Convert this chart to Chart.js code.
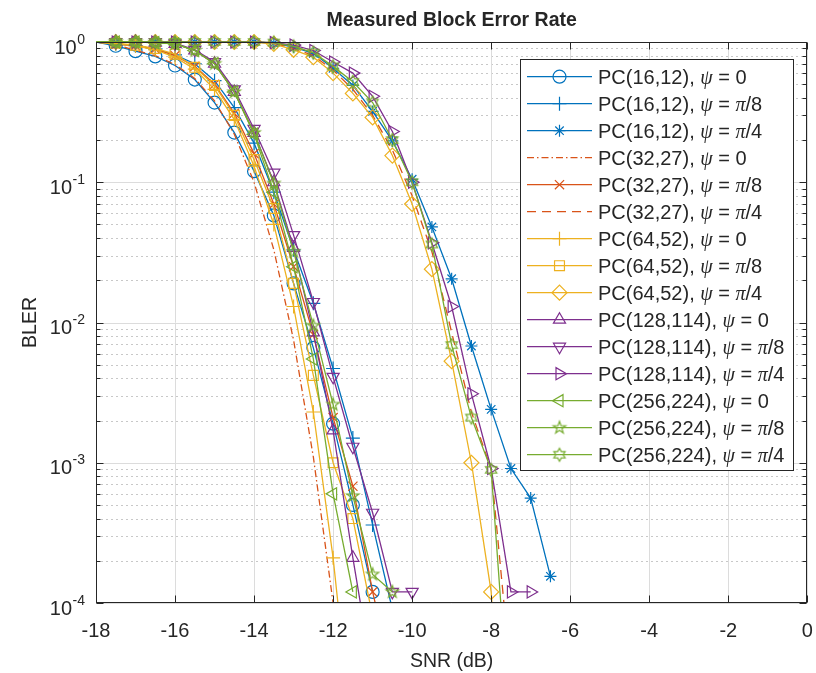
<!DOCTYPE html>
<html>
<head>
<meta charset="utf-8">
<script src="https://cdn.jsdelivr.net/npm/chart.js@4.4.1/dist/chart.umd.min.js"></script>
<style>
  html, body { margin: 0; padding: 0; background: #fff; }
  canvas { display: block; }
</style>
</head>
<body>
<canvas id="bler" width="816" height="673"></canvas>
<script>
// SNR points (dB)
const snr = [-18, -17.5, -17, -16.5, -16, -15.5, -15, -14.5, -14, -13.5, -13, -12.5,
             -12, -11.5, -11, -10.5, -10, -9.5, -9, -8.5, -8, -7.5, -7, -6.5];

// measured BLER per code / psi (null = no point)
const pc16_0    = [1, 0.94, 0.86, 0.79, 0.68, 0.54, 0.37, 0.226, 0.12, 0.058, 0.019, 0.0066, 0.0019, 0.0005, 0.00012, null, null, null, null, null, null, null, null, null];
const pc16_pi8  = [1, 0.97, 0.94, 0.89, 0.81, 0.7, 0.53, 0.34, 0.19, 0.085, 0.033, 0.0137, 0.0047, 0.0015, 0.00036, 0.00009, null, null, null, null, null, null, null, null];
const pc16_pi4  = [1, 1, 1, 1, 1, 1, 1, 1, 1, 0.98, 0.92, 0.83, 0.65, 0.49, 0.32, 0.197, 0.105, 0.048, 0.0205, 0.0068, 0.0024, 0.00091, 0.00056, 0.000155];
const pc32_0    = [1, 0.96, 0.87, 0.8, 0.69, 0.55, 0.38, 0.22, 0.1, 0.033, 0.0075, 0.0011, 0.0001, 0.000003, null, null, null, null, null, null, null, null, null, null];
const pc32_pi8  = [1, 0.97, 0.94, 0.89, 0.8, 0.67, 0.5, 0.31, 0.16, 0.07, 0.025, 0.0082, 0.0021, 0.00068, 0.00012, 0.00003, null, null, null, null, null, null, null, null];
const pc32_pi4  = [1, 1, 1, 1, 1, 1, 1, 1, 1, 0.98, 0.9, 0.8, 0.63, 0.46, 0.3, 0.17, 0.08, 0.032, 0.0085, 0.0023, 0.0009, 0.00003, null, null];
const pc64_0    = [1, 0.97, 0.94, 0.88, 0.78, 0.64, 0.46, 0.28, 0.13, 0.05, 0.013, 0.0023, 0.00021, 0.00001, null, null, null, null, null, null, null, null, null, null];
const pc64_pi8  = [1, 0.98, 0.95, 0.9, 0.82, 0.66, 0.49, 0.3, 0.145, 0.065, 0.019, 0.0042, 0.001, 0.0004, 0.00008, null, null, null, null, null, null, null, null, null];
const pc64_pi4  = [1, 1, 1, 1, 1, 1, 1, 1, 1, 0.97, 0.88, 0.78, 0.6, 0.43, 0.29, 0.155, 0.07, 0.024, 0.0053, 0.001, 0.00012, 0.000001, null, null];
const pc128_0   = [1, 1, 1, 0.99, 0.97, 0.87, 0.7, 0.44, 0.225, 0.1, 0.034, 0.0085, 0.0017, 0.00021, 0.00003, null, null, null, null, null, null, null, null, null];
const pc128_pi8 = [1, 1, 1, 1, 0.98, 0.88, 0.72, 0.46, 0.24, 0.117, 0.042, 0.014, 0.0041, 0.0013, 0.00044, 0.00012, 0.00012, null, null, null, null, null, null, null];
const pc128_pi4 = [1, 1, 1, 1, 1, 1, 1, 1, 1, 0.99, 0.95, 0.87, 0.72, 0.6, 0.41, 0.23, 0.1, 0.037, 0.013, 0.0031, 0.00091, 0.00012, 0.00012, null];
const pc256_0   = [1, 1, 1, 0.99, 0.97, 0.87, 0.7, 0.44, 0.22, 0.085, 0.025, 0.0055, 0.0006, 0.00012, null, null, null, null, null, null, null, null, null, null];
const pc256_pi8 = [1, 1, 1, 0.99, 0.97, 0.87, 0.7, 0.44, 0.225, 0.098, 0.032, 0.0095, 0.0026, 0.00058, 0.00016, 0.00012, null, null, null, null, null, null, null, null];
const pc256_pi4 = [1, 1, 1, 1, 1, 1, 1, 1, 1, 0.99, 0.93, 0.84, 0.67, 0.52, 0.37, 0.2, 0.1, 0.036, 0.0069, 0.0021, 0.00089, 0.00001, null, null];

const labels = [
  'PC(16,12), ψ = 0', 'PC(16,12), ψ = π/8', 'PC(16,12), ψ = π/4',
  'PC(32,27), ψ = 0', 'PC(32,27), ψ = π/8', 'PC(32,27), ψ = π/4',
  'PC(64,52), ψ = 0', 'PC(64,52), ψ = π/8', 'PC(64,52), ψ = π/4',
  'PC(128,114), ψ = 0', 'PC(128,114), ψ = π/8', 'PC(128,114), ψ = π/4',
  'PC(256,224), ψ = 0', 'PC(256,224), ψ = π/8', 'PC(256,224), ψ = π/4'
];
const series = [pc16_0, pc16_pi8, pc16_pi4, pc32_0, pc32_pi8, pc32_pi4, pc64_0, pc64_pi8, pc64_pi4,
                pc128_0, pc128_pi8, pc128_pi4, pc256_0, pc256_pi8, pc256_pi4];

const xTicks = [-18, -16, -14, -12, -10, -8, -6, -4, -2, 0];
const yTicks = [1e-4, 1e-3, 1e-2, 1e-1, 1];
const yExp = ['-4', '-3', '-2', '-1', '0'];

const BLUE = '#0072BD', ORANGE = '#D95319', YELLOW = '#EDB120', PURPLE = '#7E2F8E', GREEN = '#77AC30';
const INK = '#262626';
const SANS = '"Liberation Sans", Arial, Helvetica, sans-serif';
const SERIF = '"Liberation Serif", "DejaVu Serif", serif';

function starMarker(points, outer, inner, color) {
  const c = document.createElement('canvas');
  c.width = 18; c.height = 18;
  const g = c.getContext('2d');
  g.strokeStyle = color;
  g.lineWidth = 1.2;
  g.beginPath();
  for (let k = 0; k < points * 2; k++) {
    const r = k % 2 ? inner : outer;
    const a = -Math.PI / 2 + k * Math.PI / points;
    const px = 9 + r * Math.cos(a), py = 9 + r * Math.sin(a);
    if (k === 0) g.moveTo(px, py); else g.lineTo(px, py);
  }
  g.closePath();
  g.stroke();
  return c;
}
const pentagram = starMarker(5, 6.5, 2.6, GREEN);
const hexagram = starMarker(6, 6.5, 3.7, GREEN);

const looks = [
  { color: BLUE, style: 'circle', r: 6.5 },
  { color: BLUE, style: 'cross', r: 7 },
  { color: BLUE, style: 'star', r: 6 },
  { color: ORANGE, style: false, r: 0, dash: [7, 3, 1.5, 3] },
  { color: ORANGE, style: 'crossRot', r: 6.5 },
  { color: ORANGE, style: false, r: 0, dash: [9, 6] },
  { color: YELLOW, style: 'cross', r: 7 },
  { color: YELLOW, style: 'rect', r: 7 },
  { color: YELLOW, style: 'rectRot', r: 7.5 },
  { color: PURPLE, style: 'triangle', r: 7, rot: 0 },
  { color: PURPLE, style: 'triangle', r: 7, rot: 180 },
  { color: PURPLE, style: 'triangle', r: 7, rot: 90 },
  { color: GREEN, style: 'triangle', r: 7, rot: 270 },
  { color: GREEN, style: pentagram, r: 6 },
  { color: GREEN, style: hexagram, r: 6 }
];

const datasets = series.map((vals, i) => {
  const lk = looks[i];
  const pts = [];
  vals.forEach((v, j) => { if (v !== null) pts.push({ x: snr[j], y: v }); });
  return {
    label: labels[i],
    data: pts,
    borderColor: lk.color,
    borderWidth: 1.3,
    borderDash: lk.dash || [],
    pointStyle: lk.style || 'circle',
    pointRotation: lk.rot || 0,
    pointRadius: (c) => (lk.r && c.dataIndex > 0 ? lk.r : 0),
    pointBorderColor: lk.color,
    pointBackgroundColor: 'rgba(0,0,0,0)',
    pointBorderWidth: 1.2,
    tension: 0,
    fill: false,
    order: -i,
    clip: { left: 0, top: 10, right: 0, bottom: 0 }
  };
});

function drawMixed(ctx, str, x, y, size) {
  let cx = x;
  for (const ch of str) {
    const greek = ch === 'ψ' || ch === 'π';
    ctx.font = greek ? `italic ${size}px ${SERIF}` : `${size}px ${SANS}`;
    ctx.fillText(ch, cx, y);
    cx += ctx.measureText(ch).width;
  }
}

const axesDecor = {
  id: 'axesDecor',
  beforeDatasetsDraw(chart) {
    const { ctx, chartArea: a, scales: { x, y } } = chart;
    ctx.save();
    ctx.lineWidth = 1;
    // minor y grid (dotted)
    ctx.strokeStyle = '#c8c8c8';
    ctx.setLineDash([2, 3]);
    for (let e = -4; e < 0; e++) {
      for (let m = 2; m <= 9; m++) {
        const py = Math.round(y.getPixelForValue(m * Math.pow(10, e))) + 0.5;
        ctx.beginPath(); ctx.moveTo(a.left, py); ctx.lineTo(a.right, py); ctx.stroke();
      }
    }
    // major grid
    ctx.setLineDash([]);
    ctx.strokeStyle = '#dcdcdc';
    yTicks.forEach(v => {
      const py = Math.round(y.getPixelForValue(v)) + 0.5;
      ctx.beginPath(); ctx.moveTo(a.left, py); ctx.lineTo(a.right, py); ctx.stroke();
    });
    xTicks.forEach(v => {
      const px = Math.round(x.getPixelForValue(v)) + 0.5;
      ctx.beginPath(); ctx.moveTo(px, a.top); ctx.lineTo(px, a.bottom); ctx.stroke();
    });
    ctx.restore();
  },
  afterDatasetsDraw(chart) {
    const { ctx, chartArea: a, scales: { x, y } } = chart;
    const L = Math.round(a.left) + 0.5, R = Math.round(a.right) - 0.5;
    const T = Math.round(a.top) + 0.5, B = Math.round(a.bottom) - 0.5;
    ctx.save();
    ctx.strokeStyle = INK;
    ctx.lineWidth = 1;
    ctx.strokeRect(L, T, R - L, B - T);
    // ticks
    ctx.beginPath();
    xTicks.forEach(v => {
      const px = Math.round(x.getPixelForValue(v)) + 0.5;
      ctx.moveTo(px, B); ctx.lineTo(px, B - 7);
      ctx.moveTo(px, T); ctx.lineTo(px, T + 7);
    });
    yTicks.forEach(v => {
      const py = Math.round(y.getPixelForValue(v)) + 0.5;
      ctx.moveTo(L, py); ctx.lineTo(L + 7, py);
      ctx.moveTo(R, py); ctx.lineTo(R - 7, py);
    });
    for (let e = -4; e < 0; e++) {
      for (let m = 2; m <= 9; m++) {
        const py = Math.round(y.getPixelForValue(m * Math.pow(10, e))) + 0.5;
        ctx.moveTo(L, py); ctx.lineTo(L + 4, py);
        ctx.moveTo(R, py); ctx.lineTo(R - 4, py);
      }
    }
    ctx.stroke();

    // tick labels
    ctx.fillStyle = INK;
    ctx.font = `20px ${SANS}`;
    ctx.textAlign = 'center';
    ctx.textBaseline = 'alphabetic';
    xTicks.forEach(v => ctx.fillText(String(v), x.getPixelForValue(v), 637));
    yTicks.forEach((v, i) => {
      const py = y.getPixelForValue(v);
      ctx.textAlign = 'right';
      ctx.font = `14px ${SANS}`;
      const ew = ctx.measureText(yExp[i]).width;
      ctx.fillText(yExp[i], 85, py + 1.5);
      ctx.font = `20px ${SANS}`;
      ctx.fillText('10', 85 - ew - 0.5, py + 11.5);
    });

    // title and axis labels
    const cx = (a.left + a.right) / 2;
    ctx.textAlign = 'center';
    ctx.font = `bold 19.5px ${SANS}`;
    ctx.fillText('Measured Block Error Rate', cx, 26);
    ctx.font = `19.5px ${SANS}`;
    ctx.fillText('SNR (dB)', cx, 667);
    ctx.save();
    ctx.translate(36, (a.top + a.bottom) / 2);
    ctx.rotate(-Math.PI / 2);
    ctx.fillText('BLER', 0, 0);
    ctx.restore();
    ctx.restore();
  },
  afterDraw(chart) {
    const { ctx } = chart;
    const box = { l: 520.5, t: 59.5, r: 793.5, b: 470.5 };
    ctx.save();
    ctx.fillStyle = '#fff';
    ctx.fillRect(box.l, box.t, box.r - box.l, box.b - box.t);
    ctx.strokeStyle = INK;
    ctx.lineWidth = 1;
    ctx.strokeRect(box.l, box.t, box.r - box.l, box.b - box.t);
    chart.data.datasets.forEach((ds, i) => {
      const lk = looks[i];
      const ry = 76.7 + 27 * i;
      ctx.strokeStyle = lk.color;
      ctx.lineWidth = 1.3;
      ctx.setLineDash(lk.dash || []);
      ctx.beginPath(); ctx.moveTo(527, ry); ctx.lineTo(592, ry); ctx.stroke();
      ctx.setLineDash([]);
      if (lk.style) {
        ctx.lineWidth = 1.2;
        ctx.fillStyle = 'rgba(0,0,0,0)';
        Chart.helpers.drawPoint(ctx, { pointStyle: lk.style, rotation: lk.rot || 0, radius: lk.r, borderWidth: 1.2 }, 559.5, ry);
      }
      ctx.fillStyle = INK;
      ctx.textAlign = 'left';
      ctx.textBaseline = 'alphabetic';
      drawMixed(ctx, ds.label, 598, ry + 7, 20);
    });
    ctx.restore();
  }
};

new Chart(document.getElementById('bler'), {
  type: 'line',
  data: { datasets },
  options: {
    responsive: false,
    animation: false,
    devicePixelRatio: 1,
    events: [],
    layout: { padding: { left: 96, top: 42, right: 6, bottom: 70 } },
    scales: {
      x: { type: 'linear', min: -18, max: 0, display: false },
      y: { type: 'logarithmic', min: 1e-4, max: 1, display: false }
    },
    plugins: { legend: { display: false }, tooltip: { enabled: false } }
  },
  plugins: [axesDecor]
});
</script>
</body>
</html>
